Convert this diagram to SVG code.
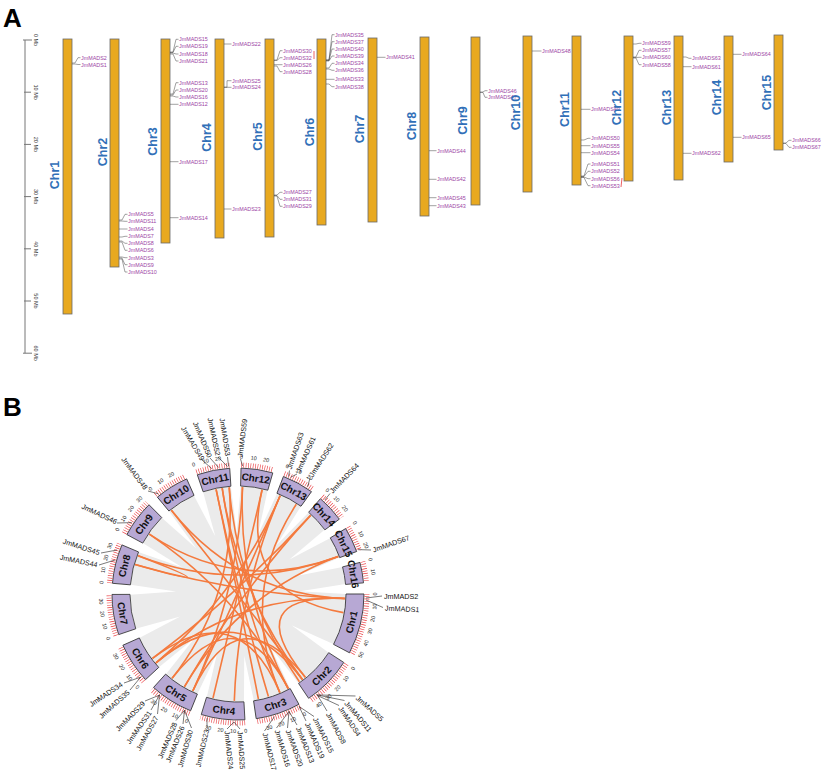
<svg xmlns="http://www.w3.org/2000/svg" xmlns:xlink="http://www.w3.org/1999/xlink" width="822" height="772" viewBox="0 0 822 772">
<style>
text{font-family:"Liberation Sans",Arial,sans-serif}
.pl{font-size:26px;font-weight:bold;fill:#000}
.bar{fill:#E8A920;stroke:#6a6a6a;stroke-width:0.8}
.cA{font-size:12.5px;font-weight:bold;fill:#3170B8;text-anchor:middle}
.g{font-size:5.4px;fill:#9C3FA4}
.ld{fill:none;stroke:#444;stroke-width:0.5}
.sc{fill:none;stroke:#777;stroke-width:1}
.scl{font-size:5.5px;fill:#333;text-anchor:middle}
.red{stroke:#E8383D;stroke-width:0.8;fill:none}
.box{fill:#B7A8D4;stroke:#333;stroke-width:0.8}
.cB{font-size:10px;font-weight:bold;fill:#111;text-anchor:middle;dominant-baseline:central}
.tk{fill:none;stroke:#E8383D;stroke-width:5;stroke-dasharray:0.6 1.764}
.tl{font-size:5.5px;fill:#222;text-anchor:middle;dominant-baseline:central}
.lk{fill:none;stroke:#F47A3E;stroke-width:1.6}
.gB{font-size:7.2px;fill:#111}
.ldB{fill:none;stroke:#222;stroke-width:0.6}
</style>
<defs>
<path id="wg" d="M-5,-108L0,-62L5,-108Z" fill="#fff"/>
</defs>
<rect width="822" height="772" fill="#fff"/>
<text class="pl" x="3" y="27">A</text>
<text class="pl" x="3" y="416">B</text>

<!-- Panel A scale -->
<g id="scale">
<path class="sc" d="M25,40V353.2M23,40H32M24,92.2H31M24,144.4H31M24,196.6H31M24,248.8H31M24,301H31M23,353.2H32"/>
<text class="scl" transform="translate(34,40) rotate(90)">0 Mb</text>
<text class="scl" transform="translate(34,92.2) rotate(90)">10 Mb</text>
<text class="scl" transform="translate(34,144.4) rotate(90)">20 Mb</text>
<text class="scl" transform="translate(34,196.6) rotate(90)">30 Mb</text>
<text class="scl" transform="translate(34,248.8) rotate(90)">40 Mb</text>
<text class="scl" transform="translate(34,301) rotate(90)">50 Mb</text>
<text class="scl" transform="translate(34,353.2) rotate(90)">60 Mb</text>
</g>

<g id="a-chr1">
<rect class="bar" x="63" y="39" width="9" height="275"/>
<path class="ld" d="M72,63h3L78,57.7h2.5M72,64h3L78,64.5h2.5"/>
<text class="g" x="81" y="59.7">JmMADS2</text>
<text class="g" x="81" y="66.5">JmMADS1</text>
<text class="cA" dy=".35em" transform="translate(55,175) rotate(-90)">Chr1</text>
</g>
<g id="a-chr2">
<rect class="bar" x="110" y="39" width="9" height="228"/>
<path class="ld" d="M119,220h3L125,214.3h2.5M119,221h3L125,221.3h2.5M119,229h3L125,229h2.5M119,237h3L125,236.3h2.5M119,241h3L125,243.3h2.5M119,242h3L125,250.3h2.5M119,257h3L125,257.7h2.5M119,258h3L125,264.7h2.5M119,259h3L125,272h2.5"/>
<text class="g" x="128" y="216.3">JmMADS5</text>
<text class="g" x="128" y="223.3">JmMADS11</text>
<text class="g" x="128" y="231">JmMADS4</text>
<text class="g" x="128" y="238.3">JmMADS7</text>
<text class="g" x="128" y="245.3">JmMADS8</text>
<text class="g" x="128" y="252.3">JmMADS6</text>
<text class="g" x="128" y="259.7">JmMADS3</text>
<text class="g" x="128" y="266.7">JmMADS9</text>
<text class="g" x="128" y="274">JmMADS10</text>
<text class="cA" dy=".35em" transform="translate(103,152) rotate(-90)">Chr2</text>
</g>
<g id="a-chr3">
<rect class="bar" x="161" y="39" width="9" height="204"/>
<path class="ld" d="M170,52h3L176,39.3h2.5M170,52.5h3L176,46.3h2.5M170,53h3L176,54h2.5M170,54h3L176,61h2.5M170,94h3L176,82.7h2.5M170,95h3L176,90h2.5M170,96h3L176,97h2.5M170,104.3h8.5M170,161.7h8.5M170,217.7h8.5"/>
<text class="g" x="179" y="41.3">JmMADS15</text>
<text class="g" x="179" y="48.3">JmMADS19</text>
<text class="g" x="179" y="56">JmMADS18</text>
<text class="g" x="179" y="63">JmMADS21</text>
<text class="g" x="179" y="84.7">JmMADS13</text>
<text class="g" x="179" y="92">JmMADS20</text>
<text class="g" x="179" y="99">JmMADS16</text>
<text class="g" x="179" y="106.3">JmMADS12</text>
<text class="g" x="179" y="163.7">JmMADS17</text>
<text class="g" x="179" y="219.7">JmMADS14</text>
<text class="cA" dy=".35em" transform="translate(153,141.5) rotate(-90)">Chr3</text>
</g>
<g id="a-chr4">
<rect class="bar" x="215" y="39" width="9" height="199"/>
<path class="ld" d="M224,44h7.5M224,87h3L227,80.7h4.5M224,87.5h3L227,87.3h4.5M224,209h7.5"/>
<text class="g" x="232" y="46">JmMADS22</text>
<text class="g" x="232" y="82.7">JmMADS25</text>
<text class="g" x="232" y="89.3">JmMADS24</text>
<text class="g" x="232" y="211">JmMADS23</text>
<text class="cA" dy=".35em" transform="translate(207,137.5) rotate(-90)">Chr4</text>
</g>
<g id="a-chr5">
<rect class="bar" x="265" y="39" width="9" height="198"/>
<path class="ld" d="M274,60h3L280,50.7h2.5M274,60.5h3L280,57.7h2.5M274,64.7h8.5M274,66h3L280,71.7h2.5M274,195h3L280,192.3h2.5M274,195.5h3L280,199.3h2.5M274,196h3L280,206.3h2.5"/>
<path class="red" d="M314,51V59"/>
<text class="g" x="283" y="52.7">JmMADS30</text>
<text class="g" x="283" y="59.7">JmMADS32</text>
<text class="g" x="283" y="66.7">JmMADS26</text>
<text class="g" x="283" y="73.7">JmMADS28</text>
<text class="g" x="283" y="194.3">JmMADS27</text>
<text class="g" x="283" y="201.3">JmMADS31</text>
<text class="g" x="283" y="208.3">JmMADS29</text>
<text class="cA" dy=".35em" transform="translate(258,136.5) rotate(-90)">Chr5</text>
</g>
<g id="a-chr6">
<rect class="bar" x="317" y="39" width="9" height="186"/>
<path class="ld" d="M326,60h3L332,34.7h2.5M326,60h3L332,41.7h2.5M326,60.5h3L332,49h2.5M326,61h3L332,56h2.5M326,68h3L332,63.3h2.5M326,69h3L332,70.3h2.5M326,79.3h8.5M326,84h3L332,86.7h2.5"/>
<text class="g" x="335" y="36.7">JmMADS35</text>
<text class="g" x="335" y="43.7">JmMADS37</text>
<text class="g" x="335" y="51">JmMADS40</text>
<text class="g" x="335" y="58">JmMADS39</text>
<text class="g" x="335" y="65.3">JmMADS34</text>
<text class="g" x="335" y="72.3">JmMADS36</text>
<text class="g" x="335" y="81.3">JmMADS33</text>
<text class="g" x="335" y="88.7">JmMADS38</text>
<text class="cA" dy=".35em" transform="translate(310,132) rotate(-90)">Chr6</text>
</g>
<g id="a-chr7">
<rect class="bar" x="368" y="38" width="9" height="184"/>
<path class="ld" d="M377,57.3h8.5"/>
<text class="g" x="386" y="59.3">JmMADS41</text>
<text class="cA" dy=".35em" transform="translate(360,129) rotate(-90)">Chr7</text>
</g>
<g id="a-chr8">
<rect class="bar" x="420" y="37" width="9" height="179"/>
<path class="ld" d="M429,150.7h7.5M429,179.3h7.5M429,197.7h7.5M429,205.7h7.5"/>
<text class="g" x="437" y="152.7">JmMADS44</text>
<text class="g" x="437" y="181.3">JmMADS42</text>
<text class="g" x="437" y="199.7">JmMADS45</text>
<text class="g" x="437" y="207.7">JmMADS43</text>
<text class="cA" dy=".35em" transform="translate(412,126) rotate(-90)">Chr8</text>
</g>
<g id="a-chr9">
<rect class="bar" x="471" y="37" width="9" height="168"/>
<path class="ld" d="M480,92h3L485,90.7h2.5M480,92.5h3L485,97.3h2.5"/>
<text class="g" x="488" y="92.7">JmMADS46</text>
<text class="g" x="488" y="99.3">JmMADS47</text>
<text class="cA" dy=".35em" transform="translate(463,120.5) rotate(-90)">Chr9</text>
</g>
<g id="a-chr10">
<rect class="bar" x="523" y="36" width="9" height="156"/>
<path class="ld" d="M532,51h9.5"/>
<text class="g" x="542" y="53">JmMADS48</text>
<text class="cA" dy=".35em" transform="translate(515.5,112.5) rotate(-90)">Chr10</text>
</g>
<g id="a-chr11">
<rect class="bar" x="572" y="36" width="9" height="149"/>
<path class="ld" d="M581,109.3h9.5M581,140h3L588,138.3h2.5M581,145.7h9.5M581,152.7h9.5M581,176h3L588,164h2.5M581,176.5h3L588,171.3h2.5M581,177h3L588,178.7h2.5M581,177.5h3L588,185.7h2.5"/>
<path class="red" d="M622,178L621,187"/>
<text class="g" x="591" y="111.3">JmMADS49</text>
<text class="g" x="591" y="140.3">JmMADS50</text>
<text class="g" x="591" y="147.7">JmMADS55</text>
<text class="g" x="591" y="154.7">JmMADS54</text>
<text class="g" x="591" y="166">JmMADS51</text>
<text class="g" x="591" y="173.3">JmMADS52</text>
<text class="g" x="591" y="180.7">JmMADS56</text>
<text class="g" x="591" y="187.7">JmMADS53</text>
<text class="cA" dy=".35em" transform="translate(565,109.5) rotate(-90)">Chr11</text>
</g>
<g id="a-chr12">
<rect class="bar" x="624" y="36" width="9" height="145"/>
<path class="ld" d="M633,44h3L639,43.3h2.5M633,57h3L639,50.3h2.5M633,57.5h3L639,57.3h2.5M633,58h3L639,64.7h2.5"/>
<text class="g" x="642" y="45.3">JmMADS59</text>
<text class="g" x="642" y="52.3">JmMADS57</text>
<text class="g" x="642" y="59.3">JmMADS60</text>
<text class="g" x="642" y="66.7">JmMADS58</text>
<text class="cA" dy=".35em" transform="translate(616.5,107.5) rotate(-90)">Chr12</text>
</g>
<g id="a-chr13">
<rect class="bar" x="674" y="36" width="9" height="144"/>
<path class="ld" d="M683,57h3L689,58.3h2.5M683,66.7h8.5M683,153.3h8.5"/>
<text class="g" x="692" y="60.3">JmMADS63</text>
<text class="g" x="692" y="68.7">JmMADS61</text>
<text class="g" x="692" y="155.3">JmMADS62</text>
<text class="cA" dy=".35em" transform="translate(667,107.5) rotate(-90)">Chr13</text>
</g>
<g id="a-chr14">
<rect class="bar" x="724" y="36" width="9" height="126"/>
<path class="ld" d="M733,54.3h8.5M733,137.3h8.5"/>
<text class="g" x="742" y="56.3">JmMADS64</text>
<text class="g" x="742" y="139.3">JmMADS65</text>
<text class="cA" dy=".35em" transform="translate(717,97.5) rotate(-90)">Chr14</text>
</g>
<g id="a-chr15">
<rect class="bar" x="774" y="35" width="9" height="115"/>
<path class="ld" d="M783,143h3L789,140.3h2.5M783,143.5h3L789,147.3h2.5"/>
<text class="g" x="792" y="142.3">JmMADS66</text>
<text class="g" x="792" y="149.3">JmMADS67</text>
<text class="cA" dy=".35em" transform="translate(767,92.5) rotate(-90)">Chr15</text>
</g>

<!-- Panel B background -->
<g id="b-bg" transform="translate(238,594)">
<circle r="107.5" fill="#ebebeb"/>
<use xlink:href="#wg" transform="rotate(120.3)"/><use xlink:href="#wg" transform="rotate(148.5)"/>
<use xlink:href="#wg" transform="rotate(174.2)"/><use xlink:href="#wg" transform="rotate(199.5)"/>
<use xlink:href="#wg" transform="rotate(224.6)"/><use xlink:href="#wg" transform="rotate(248.6)"/>
<use xlink:href="#wg" transform="rotate(272.3)"/><use xlink:href="#wg" transform="rotate(295.5)"/>
<use xlink:href="#wg" transform="rotate(317.6)"/><use xlink:href="#wg" transform="rotate(338.5)"/>
<use xlink:href="#wg" transform="rotate(358.8)"/><use xlink:href="#wg" transform="rotate(18.6)"/>
<use xlink:href="#wg" transform="rotate(38.3)"/><use xlink:href="#wg" transform="rotate(56.1)"/>
<use xlink:href="#wg" transform="rotate(72.9)"/><use xlink:href="#wg" transform="rotate(87.4)"/>
</g>

<g id="links">
<path class="lk" d="M216.1,489.3Q238,594 268.4,696.6"/>
<path class="lk" d="M222.2,488.2Q238,594 279.8,692.5"/>
<path class="lk" d="M222.2,488.2Q238,594 302.4,679.5"/>
<path class="lk" d="M229.2,487.4Q238,594 299.4,681.7"/>
<path class="lk" d="M229.2,487.4Q238,594 172.1,678.3"/>
<path class="lk" d="M242.5,487.1Q238,594 288.2,688.5"/>
<path class="lk" d="M242.5,487.1Q238,594 192.8,691"/>
<path class="lk" d="M262.1,489.7Q238,594 343.4,612.6"/>
<path class="lk" d="M280.1,495.7Q238,594 192.8,691"/>
<path class="lk" d="M280.1,495.7Q238,594 156,662.8"/>
<path class="lk" d="M296.3,504.3Q238,594 279.8,692.5"/>
<path class="lk" d="M310.6,515.4Q238,594 184.5,686.7"/>
<path class="lk" d="M310.6,515.4Q238,594 152.5,658.4"/>
<path class="lk" d="M338.2,556.5Q238,594 138.1,555.7"/>
<path class="lk" d="M338.2,556.5Q238,594 149.3,534.2"/>
<path class="lk" d="M344.9,598.5Q238,594 171.4,510.3"/>
<path class="lk" d="M344.9,598.5Q238,594 135.1,564.5"/>
<path class="lk" d="M344.9,598.5Q238,594 305.3,677.2"/>
<path class="lk" d="M171.4,510.3Q238,594 302.4,679.5"/>
<path class="lk" d="M149.3,534.2Q238,594 288.2,688.5"/>
<path class="lk" d="M135.1,564.5Q238,594 138.1,555.7"/>
<path class="lk" d="M192.8,691Q238,594 305.3,677.2"/>
<path class="lk" d="M156,662.8Q238,594 302.4,679.5"/>
<path class="lk" d="M172.1,678.3Q238,594 288.2,688.5"/>
<path class="lk" d="M152.5,658.4Q238,594 279.8,692.5"/>
<path class="lk" d="M213,698Q238,594 262.1,489.7"/>
<path class="lk" d="M258.4,699Q238,594 216.1,489.3"/>
<path class="lk" d="M156,662.8Q238,594 344.9,598.5"/>
<path class="lk" d="M184.5,686.7Q238,594 338.2,556.5"/>
<path class="lk" d="M234.3,700.9Q238,594 280.1,495.7"/>
</g>

<g id="b-chroms" transform="translate(238,594)">
<g id="b-chr1" transform="rotate(103.9)"><path class="box" d="M-30.27,-122.31A126,126 0 0 1 30.27,-122.31L25.94,-104.84A108,108 0 0 0 -25.94,-104.84Z"/><path class="tk" d="M-30.99,-125.22A129,129 0 0 1 30.99,-125.22"/><text class="cB" y="-117" transform="rotate(180 0 -117)">Chr1</text></g>
<g id="b-chr2" transform="rotate(134.4)"><path class="box" d="M-25.12,-123.47A126,126 0 0 1 25.12,-123.47L21.53,-105.83A108,108 0 0 0 -21.53,-105.83Z"/><path class="tk" d="M-25.72,-126.41A129,129 0 0 1 25.72,-126.41"/><text class="cB" y="-117" transform="rotate(180 0 -117)">Chr2</text></g>
<g id="b-chr3" transform="rotate(161.4)"><path class="box" d="M-22.53,-123.97A126,126 0 0 1 22.53,-123.97L19.31,-106.26A108,108 0 0 0 -19.31,-106.26Z"/><path class="tk" d="M-23.07,-126.92A129,129 0 0 1 23.07,-126.92"/><text class="cB" y="-117" transform="rotate(180 0 -117)">Chr3</text></g>
<g id="b-chr4" transform="rotate(186.9)"><path class="box" d="M-21.99,-124.07A126,126 0 0 1 21.99,-124.07L18.85,-106.35A108,108 0 0 0 -18.85,-106.35Z"/><path class="tk" d="M-22.51,-127.02A129,129 0 0 1 22.51,-127.02"/><text class="cB" y="-117" transform="rotate(180 0 -117)">Chr4</text></g>
<g id="b-chr5" transform="rotate(212.1)"><path class="box" d="M-21.88,-124.08A126,126 0 0 1 21.88,-124.08L18.75,-106.36A108,108 0 0 0 -18.75,-106.36Z"/><path class="tk" d="M-22.4,-127.04A129,129 0 0 1 22.4,-127.04"/><text class="cB" y="-117" transform="rotate(180 0 -117)">Chr5</text></g>
<g id="b-chr6" transform="rotate(236.6)"><path class="box" d="M-20.58,-124.31A126,126 0 0 1 20.58,-124.31L17.64,-106.55A108,108 0 0 0 -17.64,-106.55Z"/><path class="tk" d="M-21.07,-127.27A129,129 0 0 1 21.07,-127.27"/><text class="cB" y="-117" transform="rotate(180 0 -117)">Chr6</text></g>
<g id="b-chr7" transform="rotate(260.5)"><path class="box" d="M-20.36,-124.35A126,126 0 0 1 20.36,-124.35L17.45,-106.59A108,108 0 0 0 -17.45,-106.59Z"/><path class="tk" d="M-20.85,-127.3A129,129 0 0 1 20.85,-127.3"/><text class="cB" y="-117" transform="rotate(180 0 -117)">Chr7</text></g>
<g id="b-chr8" transform="rotate(283.9)"><path class="box" d="M-19.77,-124.44A126,126 0 0 1 19.77,-124.44L16.95,-106.66A108,108 0 0 0 -16.95,-106.66Z"/><path class="tk" d="M-20.24,-127.4A129,129 0 0 1 20.24,-127.4"/><text class="cB" y="-117">Chr8</text></g>
<g id="b-chr9" transform="rotate(306.6)"><path class="box" d="M-18.58,-124.63A126,126 0 0 1 18.58,-124.63L15.93,-106.82A108,108 0 0 0 -15.93,-106.82Z"/><path class="tk" d="M-19.03,-127.59A129,129 0 0 1 19.03,-127.59"/><text class="cB" y="-117">Chr9</text></g>
<g id="b-chr10" transform="rotate(328.1)"><path class="box" d="M-17.26,-124.82A126,126 0 0 1 17.26,-124.82L14.8,-106.98A108,108 0 0 0 -14.8,-106.98Z"/><path class="tk" d="M-17.67,-127.78A129,129 0 0 1 17.67,-127.78"/><text class="cB" y="-117">Chr10</text></g>
<g id="b-chr11" transform="rotate(348.7)"><path class="box" d="M-16.52,-124.92A126,126 0 0 1 16.52,-124.92L14.16,-107.07A108,108 0 0 0 -14.16,-107.07Z"/><path class="tk" d="M-16.91,-127.89A129,129 0 0 1 16.91,-127.89"/><text class="cB" y="-117">Chr11</text></g>
<g id="b-chr12" transform="rotate(8.7)"><path class="box" d="M-16.07,-124.97A126,126 0 0 1 16.07,-124.97L13.77,-107.12A108,108 0 0 0 -13.77,-107.12Z"/><path class="tk" d="M-16.45,-127.94A129,129 0 0 1 16.45,-127.94"/><text class="cB" y="-117">Chr12</text></g>
<g id="b-chr13" transform="rotate(28.4)"><path class="box" d="M-15.94,-124.99A126,126 0 0 1 15.94,-124.99L13.66,-107.14A108,108 0 0 0 -13.66,-107.14Z"/><path class="tk" d="M-16.32,-127.96A129,129 0 0 1 16.32,-127.96"/><text class="cB" y="-117">Chr13</text></g>
<g id="b-chr14" transform="rotate(47.2)"><path class="box" d="M-13.95,-125.23A126,126 0 0 1 13.95,-125.23L11.96,-107.34A108,108 0 0 0 -11.96,-107.34Z"/><path class="tk" d="M-14.28,-128.21A129,129 0 0 1 14.28,-128.21"/><text class="cB" y="-117">Chr14</text></g>
<g id="b-chr15" transform="rotate(64.5)"><path class="box" d="M-12.74,-125.36A126,126 0 0 1 12.74,-125.36L10.92,-107.45A108,108 0 0 0 -10.92,-107.45Z"/><path class="tk" d="M-13.04,-128.34A129,129 0 0 1 13.04,-128.34"/><text class="cB" y="-117">Chr15</text></g>
<g id="b-chr16" transform="rotate(80.2)"><path class="box" d="M-10.38,-125.57A126,126 0 0 1 10.38,-125.57L8.9,-107.63A108,108 0 0 0 -8.9,-107.63Z"/><path class="tk" d="M-10.63,-128.56A129,129 0 0 1 10.63,-128.56"/><text class="cB" y="-117">Chr16</text></g>

<g id="b-ticklabels">
<text class="tl" transform="rotate(90) translate(0,-137) rotate(180)">0</text>
<text class="tl" transform="rotate(95.25) translate(0,-137) rotate(180)">10</text>
<text class="tl" transform="rotate(100.5) translate(0,-137) rotate(180)">20</text>
<text class="tl" transform="rotate(105.75) translate(0,-137) rotate(180)">30</text>
<text class="tl" transform="rotate(111) translate(0,-137) rotate(180)">40</text>
<text class="tl" transform="rotate(116.25) translate(0,-137) rotate(180)">50</text>
<text class="tl" transform="rotate(122.92) translate(0,-137) rotate(180)">0</text>
<text class="tl" transform="rotate(128.17) translate(0,-137) rotate(180)">10</text>
<text class="tl" transform="rotate(133.42) translate(0,-137) rotate(180)">20</text>
<text class="tl" transform="rotate(138.67) translate(0,-137) rotate(180)">30</text>
<text class="tl" transform="rotate(143.92) translate(0,-137) rotate(180)">40</text>
<text class="tl" transform="rotate(151.07) translate(0,-137) rotate(180)">0</text>
<text class="tl" transform="rotate(156.32) translate(0,-137) rotate(180)">10</text>
<text class="tl" transform="rotate(161.57) translate(0,-137) rotate(180)">20</text>
<text class="tl" transform="rotate(166.82) translate(0,-137) rotate(180)">30</text>
<text class="tl" transform="rotate(176.8) translate(0,-137) rotate(180)">0</text>
<text class="tl" transform="rotate(182.05) translate(0,-137) rotate(180)">10</text>
<text class="tl" transform="rotate(187.3) translate(0,-137) rotate(180)">20</text>
<text class="tl" transform="rotate(192.55) translate(0,-137) rotate(180)">30</text>
<text class="tl" transform="rotate(202.06) translate(0,-137) rotate(180)">0</text>
<text class="tl" transform="rotate(207.31) translate(0,-137) rotate(180)">10</text>
<text class="tl" transform="rotate(212.56) translate(0,-137) rotate(180)">20</text>
<text class="tl" transform="rotate(217.81) translate(0,-137) rotate(180)">30</text>
<text class="tl" transform="rotate(227.21) translate(0,-137) rotate(180)">0</text>
<text class="tl" transform="rotate(232.46) translate(0,-137) rotate(180)">10</text>
<text class="tl" transform="rotate(237.71) translate(0,-137) rotate(180)">20</text>
<text class="tl" transform="rotate(242.96) translate(0,-137) rotate(180)">30</text>
<text class="tl" transform="rotate(251.16) translate(0,-137) rotate(180)">0</text>
<text class="tl" transform="rotate(256.41) translate(0,-137) rotate(180)">10</text>
<text class="tl" transform="rotate(261.66) translate(0,-137) rotate(180)">20</text>
<text class="tl" transform="rotate(266.91) translate(0,-137) rotate(180)">30</text>
<text class="tl" transform="rotate(274.9) translate(0,-137)">0</text>
<text class="tl" transform="rotate(280.15) translate(0,-137)">10</text>
<text class="tl" transform="rotate(285.4) translate(0,-137)">20</text>
<text class="tl" transform="rotate(290.65) translate(0,-137)">30</text>
<text class="tl" transform="rotate(298.11) translate(0,-137)">0</text>
<text class="tl" transform="rotate(303.36) translate(0,-137)">10</text>
<text class="tl" transform="rotate(308.61) translate(0,-137)">20</text>
<text class="tl" transform="rotate(313.86) translate(0,-137)">30</text>
<text class="tl" transform="rotate(320.22) translate(0,-137)">0</text>
<text class="tl" transform="rotate(325.47) translate(0,-137)">10</text>
<text class="tl" transform="rotate(330.72) translate(0,-137)">20</text>
<text class="tl" transform="rotate(341.12) translate(0,-137)">0</text>
<text class="tl" transform="rotate(346.37) translate(0,-137)">10</text>
<text class="tl" transform="rotate(351.62) translate(0,-137)">20</text>
<text class="tl" transform="rotate(1.34) translate(0,-137)">0</text>
<text class="tl" transform="rotate(6.59) translate(0,-137)">10</text>
<text class="tl" transform="rotate(11.84) translate(0,-137)">20</text>
<text class="tl" transform="rotate(21.14) translate(0,-137)">0</text>
<text class="tl" transform="rotate(26.39) translate(0,-137)">10</text>
<text class="tl" transform="rotate(31.64) translate(0,-137)">20</text>
<text class="tl" transform="rotate(40.83) translate(0,-137)">0</text>
<text class="tl" transform="rotate(46.08) translate(0,-137)">10</text>
<text class="tl" transform="rotate(51.33) translate(0,-137)">20</text>
<text class="tl" transform="rotate(58.69) translate(0,-137)">0</text>
<text class="tl" transform="rotate(63.94) translate(0,-137)">10</text>
<text class="tl" transform="rotate(69.19) translate(0,-137)">20</text>
<text class="tl" transform="rotate(75.44) translate(0,-137)">0</text>
<text class="tl" transform="rotate(80.69) translate(0,-137)">10</text>
</g>
</g>

<g id="b-genes">
<path class="ldB" d="M242.7,466L240.5,459M288.6,476.4L289.5,470.5M290.5,477.3L297,474M307.7,486.6L310,478M324.8,500L330,493.5M358.1,549.6L371,550M366,598L382,596M366,600L383,607.5M316.8,694.9L355.5,696M316.8,694.9L344.5,700.5M317.5,695.5L339,705.5M318,696L327,711M299.1,706.5L314,716.5M299.1,706.5L306,721M289,711.4L297,725M289,711.4L287.5,728M289,711.4L276.5,728M274.4,716.7L264.5,731M234,722L240,729M234,722L227,729M207,718.2L207,727.5M184.5,710.3L191.5,728M184.5,710.3L183,724M184.5,710.3L176,720.5M159.5,695.1L157.5,714M159.5,695.1L151,710M159.5,695.1L145,701M140.7,677.1L130,690M140.7,677.1L124,683M115,560L99,565M117,550L101,553M131.8,522.6L117,523M158.3,493.8L148,491M211.8,468.7L202,460M218.6,467.5L210,458M227.5,466.4L218,457M228.6,466.3L227.5,457"/>
<text class="gB" dy=".35em" transform="translate(240,457) rotate(-83)">JmMADS59</text>
<text class="gB" dy=".35em" transform="translate(289,469) rotate(-71)">JmMADS63</text>
<text class="gB" dy=".35em" transform="translate(298,472) rotate(-66)">JmMADS61</text>
<text class="gB" dy=".35em" transform="translate(311,476) rotate(-57)">JmMADS62</text>
<text class="gB" dy=".35em" transform="translate(331,492) rotate(-46)">JmMADS64</text>
<text class="gB" dy=".35em" transform="translate(373,550) rotate(-19)">JmMADS67</text>
<text class="gB" dy=".35em" transform="translate(384,596)">JmMADS2</text>
<text class="gB" dy=".35em" transform="translate(385,608) rotate(3)">JmMADS1</text>
<text class="gB" dy=".35em" transform="translate(357,697) rotate(42)">JmMADS5</text>
<text class="gB" dy=".35em" transform="translate(346,702) rotate(50)">JmMADS11</text>
<text class="gB" dy=".35em" transform="translate(340,707) rotate(56)">JmMADS4</text>
<text class="gB" dy=".35em" transform="translate(328,713) rotate(62)">JmMADS8</text>
<text class="gB" dy=".35em" transform="translate(315,718) rotate(64)">JmMADS15</text>
<text class="gB" dy=".35em" transform="translate(307,723) rotate(66)">JmMADS19</text>
<text class="gB" dy=".35em" transform="translate(298,727) rotate(68)">JmMADS13</text>
<text class="gB" dy=".35em" transform="translate(288,730) rotate(70)">JmMADS20</text>
<text class="gB" dy=".35em" transform="translate(277,730) rotate(73)">JmMADS16</text>
<text class="gB" dy=".35em" transform="translate(265,733) rotate(76)">JmMADS17</text>
<text class="gB" dy=".35em" transform="translate(240,731) rotate(86)">JmMADS25</text>
<text class="gB" dy=".35em" transform="translate(227,731) rotate(84)">JmMADS24</text>
<text class="gB" dy=".35em" transform="translate(198,767) rotate(-77)">JmMADS23</text>
<text class="gB" dy=".35em" transform="translate(180,767) rotate(-74)">JmMADS30</text>
<text class="gB" dy=".35em" transform="translate(168,762) rotate(-68)">JmMADS26</text>
<text class="gB" dy=".35em" transform="translate(160,758) rotate(-67)">JmMADS28</text>
<text class="gB" dy=".35em" transform="translate(138,750) rotate(-61)">JmMADS27</text>
<text class="gB" dy=".35em" transform="translate(128,743) rotate(-55)">JmMADS31</text>
<text class="gB" dy=".35em" transform="translate(117,730) rotate(-46)">JmMADS29</text>
<text class="gB" dy=".35em" transform="translate(100,717) rotate(-42)">JmMADS35</text>
<text class="gB" dy=".35em" transform="translate(90,705) rotate(-34)">JmMADS34</text>
<text class="gB" dy=".35em" transform="translate(60,557) rotate(12)">JmMADS44</text>
<text class="gB" dy=".35em" transform="translate(63,541) rotate(18)">JmMADS45</text>
<text class="gB" dy=".35em" transform="translate(82,506) rotate(25)">JmMADS46</text>
<text class="gB" dy=".35em" transform="translate(123,458) rotate(53)">JmMADS48</text>
<text class="gB" dy=".35em" transform="translate(183,427) rotate(59)">JmMADS49</text>
<text class="gB" dy=".35em" transform="translate(195,422) rotate(67)">JmMADS50</text>
<text class="gB" dy=".35em" transform="translate(210,418) rotate(78)">JmMADS52</text>
<text class="gB" dy=".35em" transform="translate(222,418) rotate(81)">JmMADS53</text>
</g>
</svg>
